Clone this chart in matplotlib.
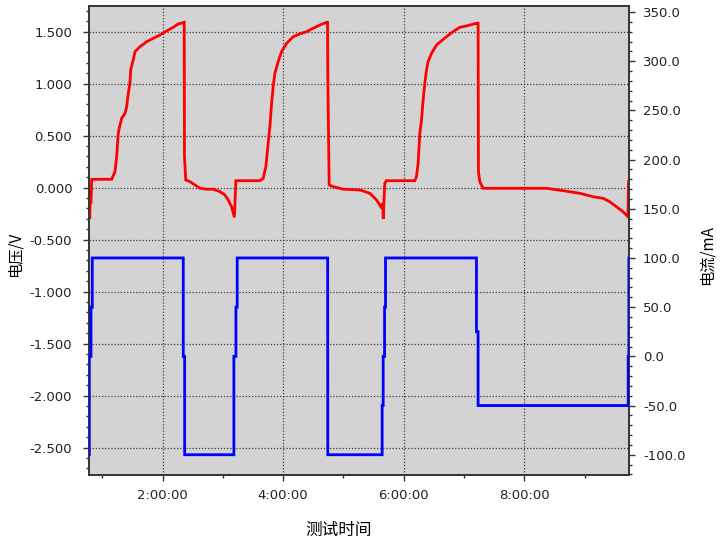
import matplotlib
matplotlib.use("Agg")
import matplotlib.pyplot as plt
from matplotlib.ticker import MultipleLocator, FuncFormatter, FormatStrFormatter

plt.rcParams['font.family'] = ['DejaVu Sans', 'Noto Sans CJK SC']
plt.rcParams['axes.unicode_minus'] = True

# ---- data (time in hours) ----
volt_time = [0.778, 0.790, 0.797, 0.810, 0.823, 1.154, 1.209, 1.237, 1.264, 1.280,
             1.320, 1.375, 1.403, 1.430, 1.458, 1.469, 1.512, 1.541, 1.624, 1.735,
             1.844, 1.955, 2.066, 2.176, 2.259, 2.358, 2.362, 2.383, 2.453, 2.536,
             2.619, 2.730, 2.839, 2.950, 3.033, 3.088, 3.144, 3.190, 3.215, 3.614,
             3.668, 3.713, 3.751, 3.779, 3.808, 3.834, 3.862, 3.917, 3.973, 4.056,
             4.166, 4.305, 4.388, 4.498, 4.609, 4.720, 4.736, 4.740, 4.763, 4.829,
             4.995, 5.272, 5.438, 5.549, 5.620, 5.650, 5.660, 5.685, 5.712, 6.184,
             6.212, 6.239, 6.267, 6.295, 6.322, 6.350, 6.378, 6.405, 6.461, 6.544,
             6.627, 6.710, 6.819, 6.930, 7.041, 7.207, 7.234, 7.240, 7.262, 7.317,
             8.368, 8.643, 8.920, 9.141, 9.307, 9.418, 9.529, 9.638, 9.721, 9.730]
volt_value = [-0.087, -0.300, -0.120, -0.150, 0.080, 0.081, 0.154, 0.298, 0.523, 0.571,
              0.667, 0.715, 0.779, 0.908, 1.004, 1.132, 1.228, 1.308, 1.356, 1.404,
              1.436, 1.468, 1.507, 1.542, 1.574, 1.590, 0.298, 0.074, 0.058, 0.026,
              -0.006, -0.015, -0.015, -0.038, -0.070, -0.118, -0.183, -0.285, 0.067, 0.067,
              0.090, 0.202, 0.427, 0.587, 0.812, 0.971, 1.100, 1.212, 1.308, 1.388,
              1.452, 1.485, 1.500, 1.533, 1.564, 1.590, 1.590, 1.084, 0.026, 0.010,
              -0.015, -0.022, -0.054, -0.118, -0.183, -0.150, -0.300, 0.040, 0.067, 0.067,
              0.106, 0.235, 0.523, 0.651, 0.843, 1.004, 1.132, 1.212, 1.292, 1.372,
              1.413, 1.452, 1.500, 1.542, 1.555, 1.581, 1.581, 0.154, 0.058, -0.006,
              -0.006, -0.029, -0.054, -0.087, -0.102, -0.135, -0.183, -0.231, -0.279, 0.058]

curr_time = [0.778, 0.783, 0.783, 0.811, 0.811, 0.832, 0.832,
             2.342, 2.342, 2.365, 2.365,
             3.182, 3.182, 3.216, 3.216, 3.237, 3.237,
             4.738, 4.740,
             5.642, 5.642, 5.659, 5.659, 5.682, 5.682, 5.698, 5.698,
             7.207, 7.207, 7.234, 7.234,
             9.725, 9.725, 9.736, 9.736]
curr_value = [-100, -100, 0, 0, 50, 50, 100,
              100, 0, 0, -100,
              -100, 0, 0, 50, 50, 100,
              100, -100,
              -100, -50, -50, 0, 0, 50, 50, 100,
              100, 25, 25, -50,
              -50, 0, 0, 100]

x_range = (0.778, 9.738)
volt_range = (-2.763, 1.747)
curr_range = (-120.6, 356.1)

def hms(x, pos):
    total = int(round(x * 3600))
    h = total // 3600
    m = (total % 3600) // 60
    s = total % 60
    return f"{h}:{m:02d}:{s:02d}"

fig = plt.figure(figsize=(7.22, 5.40), dpi=100)
fig.patch.set_facecolor('white')
ax = fig.add_axes([89/722, 1 - 475/540, 540/722, 469/540])
ax.set_facecolor('#d3d3d3')
ax2 = ax.twinx()

ax.plot(volt_time, volt_value, color='#ff0000', lw=2.0, solid_joinstyle='miter', zorder=3)
ax2.plot(curr_time, curr_value, color='#0000ff', lw=2.0, solid_joinstyle='miter', zorder=3)

ax.set_xlim(*x_range)
ax.set_ylim(*volt_range)
ax2.set_ylim(*curr_range)

ax.xaxis.set_major_locator(MultipleLocator(2))
ax.xaxis.set_minor_locator(MultipleLocator(1))
ax.xaxis.set_major_formatter(FuncFormatter(hms))
ax.yaxis.set_major_locator(MultipleLocator(0.5))
ax.yaxis.set_minor_locator(MultipleLocator(0.1))
ax.yaxis.set_major_formatter(FormatStrFormatter('%.3f'))
ax2.yaxis.set_major_locator(MultipleLocator(50))
ax2.yaxis.set_minor_locator(MultipleLocator(10))
ax2.yaxis.set_major_formatter(FormatStrFormatter('%.1f'))

ax.grid(True, which='major', linestyle=(0, (1, 1.5)), color='#3a3a3a', lw=0.9)
ax.set_axisbelow(True)

tick_color = '#333333'
ax.tick_params(axis='both', which='major', direction='out', length=4, width=1,
               color=tick_color, labelsize=9.5, labelcolor='#222222')
ax.tick_params(axis='both', which='minor', direction='out', length=2, width=1, color=tick_color)
ax.tick_params(axis='y', which='major', pad=8)
ax.tick_params(axis='x', which='major', pad=6)
ax2.tick_params(axis='y', which='major', direction='out', length=4, width=1,
                color=tick_color, labelsize=9.5, labelcolor='#222222', pad=6)
ax2.tick_params(axis='y', which='minor', direction='out', length=2, width=1, color=tick_color)

for a in (ax, ax2):
    for sp in a.spines.values():
        sp.set_color('#333333')
        sp.set_linewidth(1.2)

cjk = ['Noto Sans CJK SC', 'DejaVu Sans']
ax.set_xlabel('测试时间', fontsize=12, family=cjk)
ax.xaxis.set_label_coords(0.463, -0.1)
ax.set_ylabel('电压/V', fontsize=11, family=cjk)
ax.yaxis.set_label_coords(-0.122, 0.47)
ax2.set_ylabel('电流/mA', fontsize=11, family=cjk, rotation=90)
ax2.yaxis.set_label_coords(1.128, 0.47)

fig.savefig('out.png', dpi=100, facecolor='white')
